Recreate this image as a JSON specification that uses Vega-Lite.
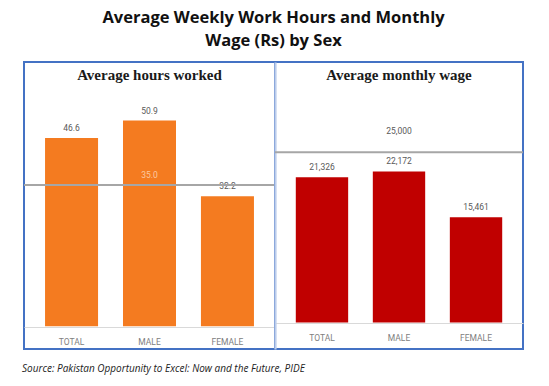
{
  "$schema": "https://vega.github.io/schema/vega-lite/v6.json",
  "background": "white",
  "padding": {"left": 22, "top": 10, "right": 20, "bottom": 8},
  "datasets": {
    "hours": [
      {"category": "TOTAL", "value": 46.6},
      {"category": "MALE", "value": 50.9},
      {"category": "FEMALE", "value": 32.2}
    ],
    "wage": [
      {"category": "TOTAL", "value": 21326},
      {"category": "MALE", "value": 22172},
      {"category": "FEMALE", "value": 15461}
    ],
    "hoursRef": [{"value": 35}],
    "wageRef": [{"value": 25000}]
  },
  "title": {
    "text": "Source: Pakistan Opportunity to Excel: Now and the Future, PIDE",
    "orient": "bottom",
    "anchor": "start",
    "font": "Open Sans",
    "fontSize": 10,
    "fontStyle": "italic",
    "fontWeight": "normal",
    "color": "#222222",
    "offset": 14
  },
  "vconcat": [
    {
      "title": {
        "text": ["Average Weekly Work Hours and Monthly", "Wage (Rs) by Sex"],
        "anchor": "middle",
        "font": "Open Sans",
        "fontSize": 16.5,
        "fontWeight": "bold",
        "color": "#111111",
        "lineHeight": 22.5,
        "offset": 12
      },
      "bounds": "flush",
      "spacing": 0,
      "hconcat": [
        {
          "width": 251,
          "height": 287,
          "title": {
            "text": "Average hours worked",
            "font": "Liberation Serif",
            "fontSize": 15,
            "fontWeight": "bold",
            "color": "#1a1a1a",
            "anchor": "middle",
            "offset": -21
          },
          "layer": [
            {
              "data": {"name": "hours"},
              "mark": {"type": "bar", "color": "#F47B20"},
              "encoding": {
                "x": {
                  "field": "category", "type": "nominal",
                  "sort": ["TOTAL", "MALE", "FEMALE"],
                  "scale": {"paddingInner": 0.32, "paddingOuter": 0.27},
                  "axis": {
                    "title": null, "labelAngle": 0, "ticks": false,
                    "domainColor": "#D9D9D9", "domainWidth": 1,
                    "labelColor": "#808080", "labelFont": "Liberation Sans Narrow, Roboto",
                    "labelFontSize": 8.5, "labelPadding": 10, "offset": -22
                  }
                },
                "y": {
                  "field": "value", "type": "quantitative",
                  "scale": {"domain": [-5.6, 65.4], "nice": false},
                  "axis": null
                },
                "y2": {"datum": 0}
              }
            },
            {
              "data": {"name": "hours"},
              "mark": {"type": "text", "dy": -10, "fontSize": 8.5, "color": "#595959", "font": "Liberation Sans Narrow, Roboto"},
              "encoding": {
                "x": {"field": "category", "type": "nominal", "sort": ["TOTAL", "MALE", "FEMALE"]},
                "y": {"field": "value", "type": "quantitative"},
                "text": {"field": "value", "type": "quantitative", "format": ".1f"}
              }
            },
            {
              "data": {"name": "hoursRef"},
              "mark": {"type": "rule", "color": "#A6A6A6", "strokeWidth": 2},
              "encoding": {"y": {"field": "value", "type": "quantitative"}}
            },
            {
              "data": {"name": "hoursRef"},
              "mark": {"type": "text", "dy": -10, "fontSize": 8.5, "color": "#FBC9A0", "font": "Liberation Sans Narrow, Roboto"},
              "encoding": {
                "y": {"field": "value", "type": "quantitative"},
                "text": {"field": "value", "type": "quantitative", "format": ".1f"}
              }
            }
          ]
        },
        {
          "width": 248,
          "height": 287,
          "title": {
            "text": "Average monthly wage",
            "font": "Liberation Serif",
            "fontSize": 15,
            "fontWeight": "bold",
            "color": "#1a1a1a",
            "anchor": "middle",
            "offset": -21
          },
          "layer": [
            {
              "data": {"name": "wage"},
              "mark": {"type": "bar", "color": "#C00000"},
              "encoding": {
                "x": {
                  "field": "category", "type": "nominal",
                  "sort": ["TOTAL", "MALE", "FEMALE"],
                  "scale": {"paddingInner": 0.32, "paddingOuter": 0.27},
                  "axis": {
                    "title": null, "labelAngle": 0, "ticks": false,
                    "domainColor": "#D9D9D9", "domainWidth": 1,
                    "labelColor": "#808080", "labelFont": "Liberation Sans Narrow, Roboto",
                    "labelFontSize": 8.5, "labelPadding": 10, "offset": -26
                  }
                },
                "y": {
                  "field": "value", "type": "quantitative",
                  "scale": {"domain": [-3900, 38247], "nice": false},
                  "axis": {
                    "orient": "left", "title": null, "labels": false, "ticks": false,
                    "grid": false, "domain": true, "domainColor": "#BCCDEB", "domainWidth": 2.2
                  }
                },
                "y2": {"datum": 0}
              }
            },
            {
              "data": {"name": "wage"},
              "mark": {"type": "text", "dy": -10, "fontSize": 8.5, "color": "#595959", "font": "Liberation Sans Narrow, Roboto"},
              "encoding": {
                "x": {"field": "category", "type": "nominal", "sort": ["TOTAL", "MALE", "FEMALE"]},
                "y": {"field": "value", "type": "quantitative"},
                "text": {"field": "value", "type": "quantitative", "format": ","}
              }
            },
            {
              "data": {"name": "wageRef"},
              "mark": {"type": "rule", "color": "#A6A6A6", "strokeWidth": 2},
              "encoding": {"y": {"field": "value", "type": "quantitative"}}
            },
            {
              "data": {"name": "wageRef"},
              "mark": {"type": "text", "dy": -21, "fontSize": 8.5, "color": "#595959", "font": "Liberation Sans Narrow, Roboto"},
              "encoding": {
                "y": {"field": "value", "type": "quantitative"},
                "text": {"field": "value", "type": "quantitative", "format": ","}
              }
            }
          ]
        }
      ]
    }
  ],
  "config": {
    "view": {"stroke": "#4472C4", "strokeWidth": 2}
  }
}
